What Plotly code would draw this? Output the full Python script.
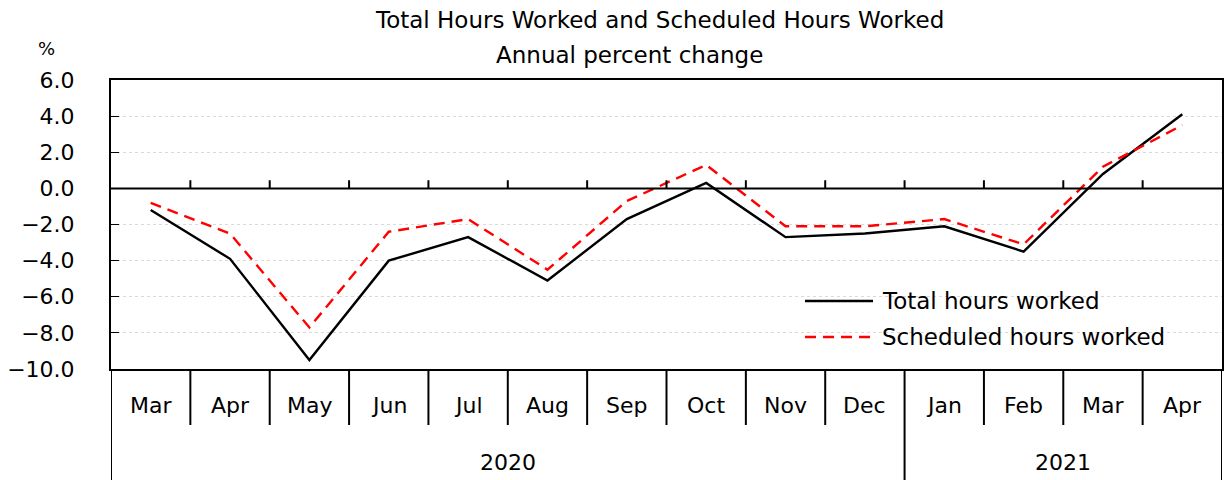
import plotly.graph_objects as go

months = ["Mar", "Apr", "May", "Jun", "Jul", "Aug", "Sep", "Oct", "Nov", "Dec",
          "Jan", "Feb", "Mar", "Apr"]
years = ["2020", "2021"]
year_counts = [10, 4]
total_hours = [-1.2, -3.9, -9.5, -4.0, -2.7, -5.1, -1.7, 0.3, -2.7, -2.5, -2.1, -3.5, 0.8, 4.1]
scheduled_hours = [-0.8, -2.5, -7.7, -2.4, -1.7, -4.5, -0.7, 1.3, -2.1, -2.1, -1.7, -3.1, 1.2, 3.5]
y_ticks = [6, 4, 2, 0, -2, -4, -6, -8, -10]
series_names = ["Total hours worked", "Scheduled hours worked"]
title_lines = ["Total Hours Worked and Scheduled Hours Worked", "Annual percent change"]

FONT = "DejaVu Sans"
W, HGT = 1224, 480
ML, MR, MT, MB = 111, 2, 80, 111
PW = W - ML - MR
PH = HGT - MT - MB
xs = list(range(len(months)))

def py(px):
    return (HGT - MB - px) / PH

def pxx(px):
    return (px - ML) / PW

DASH = "11px,7px"
LW = 2.4

fig = go.Figure()
fig.add_trace(go.Scatter(x=xs, y=total_hours, mode="lines", name=series_names[0],
                         line=dict(color="black", width=LW), showlegend=False))
fig.add_trace(go.Scatter(x=xs, y=scheduled_hours, mode="lines", name=series_names[1],
                         line=dict(color="#ff0000", width=LW, dash=DASH), showlegend=False))

shapes = []
# zero line
shapes.append(dict(type="line", xref="paper", yref="y", x0=0, x1=1, y0=0, y1=0,
                   line=dict(color="black", width=2)))
boundaries_full = [-0.5]
acc = -0.5
for c in year_counts:
    acc += c
    boundaries_full.append(acc)
for i in range(1, len(months)):
    b = i - 0.5
    # small ticks on the zero line
    shapes.append(dict(type="line", xref="x", yref="y", x0=b, x1=b, y0=0, y1=0.45,
                       line=dict(color="black", width=2)))
    if b in boundaries_full:
        continue
    shapes.append(dict(type="line", xref="x", yref="paper", x0=b, x1=b, y0=0, y1=py(425),
                       line=dict(color="black", width=2)))
for b in boundaries_full:
    shapes.append(dict(type="line", xref="x", yref="paper", x0=b, x1=b, y0=0, y1=py(482),
                       line=dict(color="black", width=2)))

# custom legend
shapes.append(dict(type="rect", xref="paper", yref="paper", x0=pxx(763), x1=pxx(1205),
                   y0=py(352), y1=py(284), fillcolor="white", line=dict(width=0),
                   layer="between"))
leg_rows = [301, 337]
leg_styles = [dict(color="black", width=LW), dict(color="#ff0000", width=LW, dash=DASH)]
for ry, st in zip(leg_rows, leg_styles):
    shapes.append(dict(type="line", xref="paper", yref="paper", x0=pxx(805), x1=pxx(873),
                       y0=py(ry), y1=py(ry), line=st))

annotations = []
for ry, nm in zip(leg_rows, series_names):
    annotations.append(dict(x=pxx(880), y=py(ry), xref="paper", yref="paper", text=nm,
                            showarrow=False, xanchor="left", yanchor="middle",
                            font=dict(size=23, color="black", family=FONT)))
for i, m in enumerate(months):
    annotations.append(dict(x=i, y=py(405), xref="x", yref="paper", text=m, showarrow=False,
                            font=dict(size=22, color="black", family=FONT),
                            xanchor="center", yanchor="middle"))
start = -0.5
for yr, c in zip(years, year_counts):
    annotations.append(dict(x=start + c / 2, y=py(462), xref="x", yref="paper", text=yr,
                            showarrow=False, font=dict(size=22, color="black", family=FONT),
                            xanchor="center", yanchor="middle"))
    start += c
# titles
annotations.append(dict(x=pxx(659), y=py(20), xref="paper", yref="paper", text=title_lines[0],
                        showarrow=False, xanchor="center", yanchor="middle",
                        font=dict(size=23, color="black", family=FONT)))
annotations.append(dict(x=pxx(629), y=py(55), xref="paper", yref="paper", text=title_lines[1],
                        showarrow=False, xanchor="center", yanchor="middle",
                        font=dict(size=23, color="black", family=FONT)))
annotations.append(dict(x=pxx(46), y=py(48), xref="paper", yref="paper", text="%",
                        showarrow=False, font=dict(size=18, color="black", family=FONT),
                        xanchor="center", yanchor="middle"))

fig.update_layout(
    width=W, height=HGT,
    margin=dict(l=ML, r=MR, t=MT, b=MB),
    paper_bgcolor="white", plot_bgcolor="white",
    font=dict(family=FONT, size=22, color="black"),
    showlegend=False,
    shapes=shapes,
    annotations=annotations,
)
fig.update_xaxes(range=[-0.5, len(months) - 0.5], showticklabels=False, showgrid=False,
                 zeroline=False, showline=True, linecolor="black", linewidth=2, mirror=True,
                 ticks="")
fig.update_yaxes(range=[-10, 6], tickvals=y_ticks,
                 ticktext=[f"{v:.1f}".replace("-", "\u2212") for v in y_ticks],
                 showgrid=True, gridcolor="#d9d9d9", griddash="dot", gridwidth=1,
                 zeroline=False, showline=True, linecolor="black", linewidth=2, mirror=True,
                 ticks="inside", ticklen=8, tickcolor="black", tickwidth=1,
                 ticklabelstandoff=30, tickfont=dict(size=22, family=FONT, color="black"),
                 automargin=False)

fig.write_html("out.html", post_script="document.body.style.margin='0px';",
               config={"displayModeBar": False})
